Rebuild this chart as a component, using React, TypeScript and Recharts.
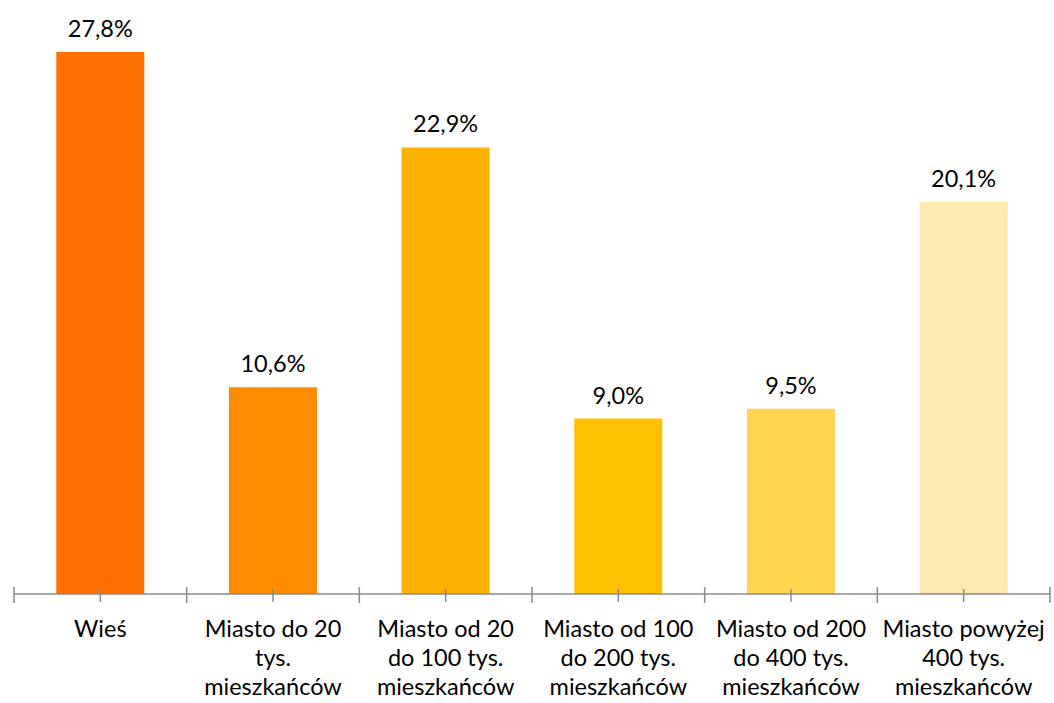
import { Bar, BarChart, Cell, LabelList, XAxis, YAxis } from "recharts";

const categories = [
  "Wieś",
  "Miasto do 20\ntys.\nmieszkańców",
  "Miasto od 20\ndo 100 tys.\nmieszkańców",
  "Miasto od 100\ndo 200 tys.\nmieszkańców",
  "Miasto od 200\ndo 400 tys.\nmieszkańców",
  "Miasto powyżej\n400 tys.\nmieszkańców",
];
const shares = [27.8, 10.6, 22.9, 9.0, 9.5, 20.1];
const barColors = ["#FF7000", "#FF8C00", "#FFB000", "#FFC000", "#FFD44F", "#FFEAB0"];

const WIDTH = 1054;
const HEIGHT = 703;
const MARGIN = { top: 9, right: 4, bottom: 0, left: 14 };
const FONT = "Lato, 'Noto Sans', sans-serif";
const AXIS_COLOR = "#8a8a8a";

const data = categories.map((name, i) => ({ name, value: shares[i] }));

// band width of one category on the x axis
const band = (WIDTH - MARGIN.left - MARGIN.right) / categories.length;

function CategoryTick(props: any) {
  const { x, y, payload, index } = props;
  const lines = String(payload.value).split("\n");
  const left = x - band / 2;
  return (
    <g>
      <line x1={x} x2={x} y1={y - 5} y2={y + 8} stroke={AXIS_COLOR} strokeWidth={1.5} />
      <line x1={left} x2={left} y1={y - 7} y2={y + 9} stroke={AXIS_COLOR} strokeWidth={1.5} />
      {index === categories.length - 1 && (
        <line x1={x + band / 2} x2={x + band / 2} y1={y - 7} y2={y + 9} stroke={AXIS_COLOR} strokeWidth={1.5} />
      )}
      <text x={x} y={y + 43} textAnchor="middle" fontSize={23.5} fill="#000" fontFamily={FONT}>
        {lines.map((l, i) => (
          <tspan key={i} x={x} dy={i === 0 ? 0 : 29}>
            {l}
          </tspan>
        ))}
      </text>
    </g>
  );
}

export default function App() {
  return (
    <div style={{ position: "absolute", left: 0, top: 0, background: "#fff" }}>
      <BarChart width={WIDTH} height={HEIGHT} data={data} margin={MARGIN} barCategoryGap="24.5%">
        <YAxis hide domain={[0, 30]} />
        <XAxis
          dataKey="name"
          interval={0}
          height={109}
          tickSize={0}
          tickMargin={0}
          tickLine={false}
          axisLine={{ stroke: AXIS_COLOR, strokeWidth: 1.5 }}
          tick={<CategoryTick />}
        />
        <Bar dataKey="value" isAnimationActive={false}>
          {data.map((d, i) => (
            <Cell key={d.name} fill={barColors[i]} />
          ))}
          <LabelList
            dataKey="value"
            position="top"
            offset={15}
            fontSize={23.5}
            fill="#000"
            fontFamily={FONT}
            formatter={(v: any) => `${Number(v).toFixed(1).replace(".", ",")}%`}
          />
        </Bar>
      </BarChart>
    </div>
  );
}
